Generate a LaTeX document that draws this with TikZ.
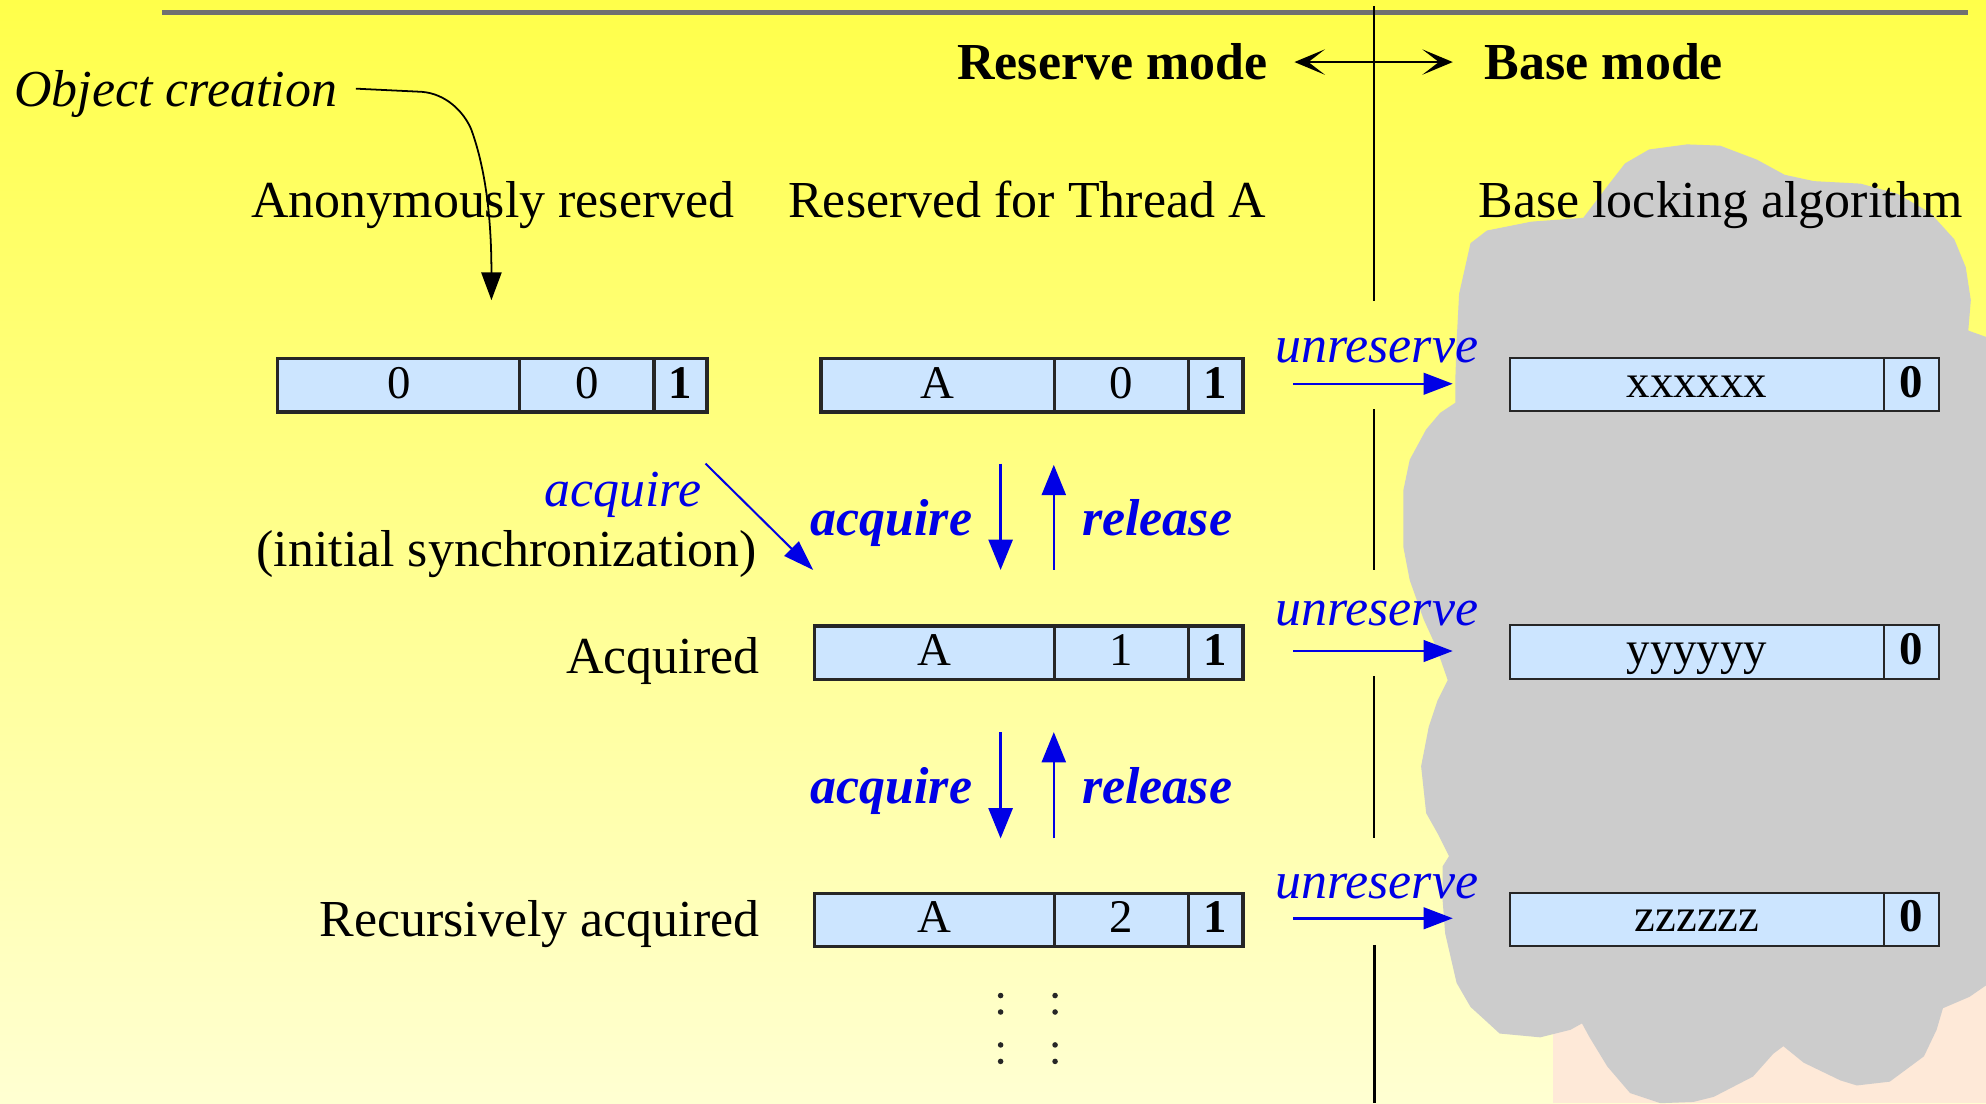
\documentclass[tikz,border=0pt]{standalone}
\usepackage{fontspec}
\setmainfont{Liberation Serif}
\usetikzlibrary{arrows.meta}
\definecolor{bgtop}{HTML}{FFFF4A}
\definecolor{bgbot}{HTML}{FFFFD2}
\definecolor{peach}{HTML}{FEE9D8}
\definecolor{cloudgray}{HTML}{CCCCCC}
\definecolor{cellblue}{HTML}{CCE5FF}
\definecolor{arrblue}{HTML}{0000E6}
\definecolor{rulegray}{HTML}{707070}
\begin{document}
\begin{tikzpicture}[x=0.5pt,y=-0.5pt,
  lbl/.style={inner sep=0pt, font=\fontsize{20.5}{24}\selectfont},
  bluelbl/.style={lbl, text=arrblue},
  cell/.style={draw=black!85, fill=cellblue, inner sep=0pt, anchor=north west,
    minimum height=21pt, text height=10pt, text depth=0pt,
    font=\fontsize{18.5}{20}\selectfont},
  cellL/.style={cell, line width=1.3pt},
  cellR/.style={cell, line width=0.8pt},
  flow/.style={draw=arrblue, line width=1pt, -{Triangle[length=12pt,width=9.5pt]}},
  unres/.style={draw=arrblue, line width=1pt, -{Triangle[length=11.5pt,width=8.5pt]}},
  divider/.style={draw=black, line width=0.8pt},
  modearrow/.style={line width=1.1pt,
    {Stealth[length=12pt,width=10pt,inset=6.5pt]}-{Stealth[length=12pt,width=10pt,inset=6.5pt]}},
]
\useasboundingbox (0,0) rectangle (1568,871);
% background
\shade[top color=bgtop, bottom color=bgbot] (0,0) rectangle (1568,871);
\fill[peach] (1226,700) rectangle (1568,871);
% cloud
\begin{scope}
\clip (0,0) rectangle (1568,871);
\fill[cloudgray] (1152,232) -- (1161,192) -- (1174,182) -- (1209,175) -- (1250,172)
  -- (1269,147) -- (1283,129) -- (1302,118) -- (1332,114) -- (1358,115) -- (1387,126)
  -- (1409,138) -- (1432,143) -- (1469,145) -- (1498,153) -- (1524,168) -- (1543,189)
  -- (1552,211) -- (1556,237) -- (1554,261) -- (1568,266) -- (1600,270) -- (1600,778)
  -- (1568,778) -- (1555,787) -- (1534,796) -- (1529,813) -- (1519,834) -- (1492,854)
  -- (1466,857) -- (1453,853) -- (1424,839) -- (1408,826) -- (1400,832) -- (1384,850)
  -- (1353,866) -- (1337,870) -- (1311,871) -- (1287,863) -- (1269,842) -- (1255,819)
  -- (1249,808) -- (1240,813) -- (1216,819) -- (1184,816) -- (1172,805) -- (1161,795)
  -- (1150,776) -- (1141,737) -- (1139,711) -- (1139,684) -- (1144,676) -- (1135,658)
  -- (1126,642) -- (1122,605) -- (1128,574) -- (1135,553) -- (1143,537) -- (1134,511)
  -- (1124,489) -- (1113,458) -- (1108,432) -- (1108,387) -- (1113,363) -- (1126,339)
  -- (1137,326) -- (1149,318) -- (1149,300) -- (1150,270) -- cycle;
\end{scope}
% top rule
\coordinate (ruleL) at (128,10);
\coordinate (ruleR) at (1554,10);
\draw[rulegray, line width=1.85pt] (ruleL) -- (ruleR);
% divider between modes
\coordinate (v1a) at (1085,5);   \coordinate (v1b) at (1085,238);
\coordinate (v2a) at (1085,323); \coordinate (v2b) at (1085,450);
\coordinate (v3a) at (1085,534); \coordinate (v3b) at (1085,662);
\coordinate (v4a) at (1085,746); \coordinate (v4b) at (1085,871);
\draw[divider] (v1a) -- (v1b);
\draw[divider] (v2a) -- (v2b);
\draw[divider] (v3a) -- (v3b);
\draw[divider, line width=1.2pt] (v4a) -- (v4b);
% mode headings
\node[lbl, font=\fontsize{20.5}{24}\selectfont\bfseries, anchor=base east] (reserve) at (1001,63) {Reserve mode};
\node[lbl, font=\fontsize{20.5}{24}\selectfont\bfseries, anchor=base west] (basemode) at (1172,63) {Base mode};
\coordinate (modeL) at (1022,49);
\coordinate (modeR) at (1147,49);
\draw[modearrow] (modeL) -- (modeR);
% object creation
\node[lbl, font=\fontsize{20.5}{24}\selectfont\itshape, anchor=base west] (objc) at (11,84) {Object creation};
\coordinate (ocs) at (281,70);
\coordinate (oce) at (388,237);
\draw[line width=0.7pt, -{Triangle[length=11pt,width=8pt]}] (ocs) -- (333,72.5)
  .. controls (352,74) and (366,88) .. (372,102)
  .. controls (384,135) and (388,175) .. (oce);
% column headings
\node[lbl, anchor=base west] (anon) at (198,172) {Anonymously reserved};
\node[lbl, anchor=base west] (resA) at (622,172) {Reserved for Thread A};
\node[lbl, anchor=base west] (baselock) at (1167,172) {Base locking algorithm};
% row 1 words
\node[cellL, minimum width=95.5pt] (L1a) at (218,282) {0};
\node[cellL, minimum width=53pt] (L1b) at (409,282) {0};
\node[cellL, minimum width=21pt] (L1c) at (515,282) {\bfseries 1};
\node[cellL, minimum width=92pt] (M1a) at (647,282) {A};
\node[cellL, minimum width=53pt] (M1b) at (831,282) {0};
\node[cellL, minimum width=21.5pt] (M1c) at (937,282) {\bfseries 1};
\node[cellR, minimum width=148pt] (R1a) at (1191,282) {xxxxxx};
\node[cellR, minimum width=21.5pt] (R1b) at (1487,282) {\bfseries 0};
% row 2 words
\node[lbl, anchor=base east] (acq) at (600,532) {Acquired};
\node[cellL, minimum width=94.5pt] (M2a) at (642,493) {A};
\node[cellL, minimum width=53pt] (M2b) at (831,493) {1};
\node[cellL, minimum width=21.5pt] (M2c) at (937,493) {\bfseries 1};
\node[cellR, minimum width=148pt] (R2a) at (1191,493) {yyyyyy};
\node[cellR, minimum width=21.5pt] (R2b) at (1487,493) {\bfseries 0};
% row 3 words
\node[lbl, anchor=base east] (racq) at (600,739) {Recursively acquired};
\node[cellL, minimum width=94.5pt] (M3a) at (642,704) {A};
\node[cellL, minimum width=53pt] (M3b) at (831,704) {2};
\node[cellL, minimum width=21.5pt] (M3c) at (937,704) {\bfseries 1};
\node[cellR, minimum width=148pt] (R3a) at (1191,704) {zzzzzz};
\node[cellR, minimum width=21.5pt] (R3b) at (1487,704) {\bfseries 0};
% initial acquire
\node[bluelbl, font=\fontsize{20.5}{24}\selectfont\itshape, anchor=base east] (iacq) at (554,400) {acquire};
\node[lbl, anchor=base east] (isync) at (598,447) {(initial synchronization)};
\coordinate (d1s) at (557,366);
\coordinate (d1e) at (642,450);
\draw[draw=arrblue, line width=0.8pt, -{Triangle[length=12pt,width=8pt]}] (d1s) -- (d1e);
% acquire / release between rows 1-2
\coordinate (a12s) at (790,366); \coordinate (a12e) at (790,450);
\coordinate (r12s) at (832,450); \coordinate (r12e) at (832,367);
\draw[flow] (a12s) -- (a12e);
\draw[flow] (r12s) -- (r12e);
\node[bluelbl, font=\fontsize{20.5}{24}\selectfont\bfseries\itshape, anchor=base east] (acq12) at (768,423) {acquire};
\node[bluelbl, font=\fontsize{20.5}{24}\selectfont\bfseries\itshape, anchor=base west] (rel12) at (854,423) {release};
% acquire / release between rows 2-3
\coordinate (a23s) at (790,578); \coordinate (a23e) at (790,662);
\coordinate (r23s) at (832,662); \coordinate (r23e) at (832,578);
\draw[flow] (a23s) -- (a23e);
\draw[flow] (r23s) -- (r23e);
\node[bluelbl, font=\fontsize{20.5}{24}\selectfont\bfseries\itshape, anchor=base east] (acq23) at (768,634) {acquire};
\node[bluelbl, font=\fontsize{20.5}{24}\selectfont\bfseries\itshape, anchor=base west] (rel23) at (854,634) {release};
% unreserve arrows
\coordinate (u1s) at (1021,303); \coordinate (u1e) at (1147,303);
\coordinate (u2s) at (1021,514); \coordinate (u2e) at (1147,514);
\coordinate (u3s) at (1021,725); \coordinate (u3e) at (1147,725);
\draw[unres] (u1s) -- (u1e);
\draw[unres] (u2s) -- (u2e);
\draw[unres] (u3s) -- (u3e);
\node[bluelbl, font=\fontsize{20.5}{24}\selectfont\itshape, anchor=base] (un1) at (1087,286) {unreserve};
\node[bluelbl, font=\fontsize{20.5}{24}\selectfont\itshape, anchor=base] (un2) at (1087,494) {unreserve};
\node[bluelbl, font=\fontsize{20.5}{24}\selectfont\itshape, anchor=base] (un3) at (1087,709) {unreserve};
% continuation dots
\foreach \x in {790,833}{
  \foreach \y in {786,799,825,838}{
    \fill[black!85] (\x,\y) circle[radius=1.1pt];
  }
}
\end{tikzpicture}
\end{document}
